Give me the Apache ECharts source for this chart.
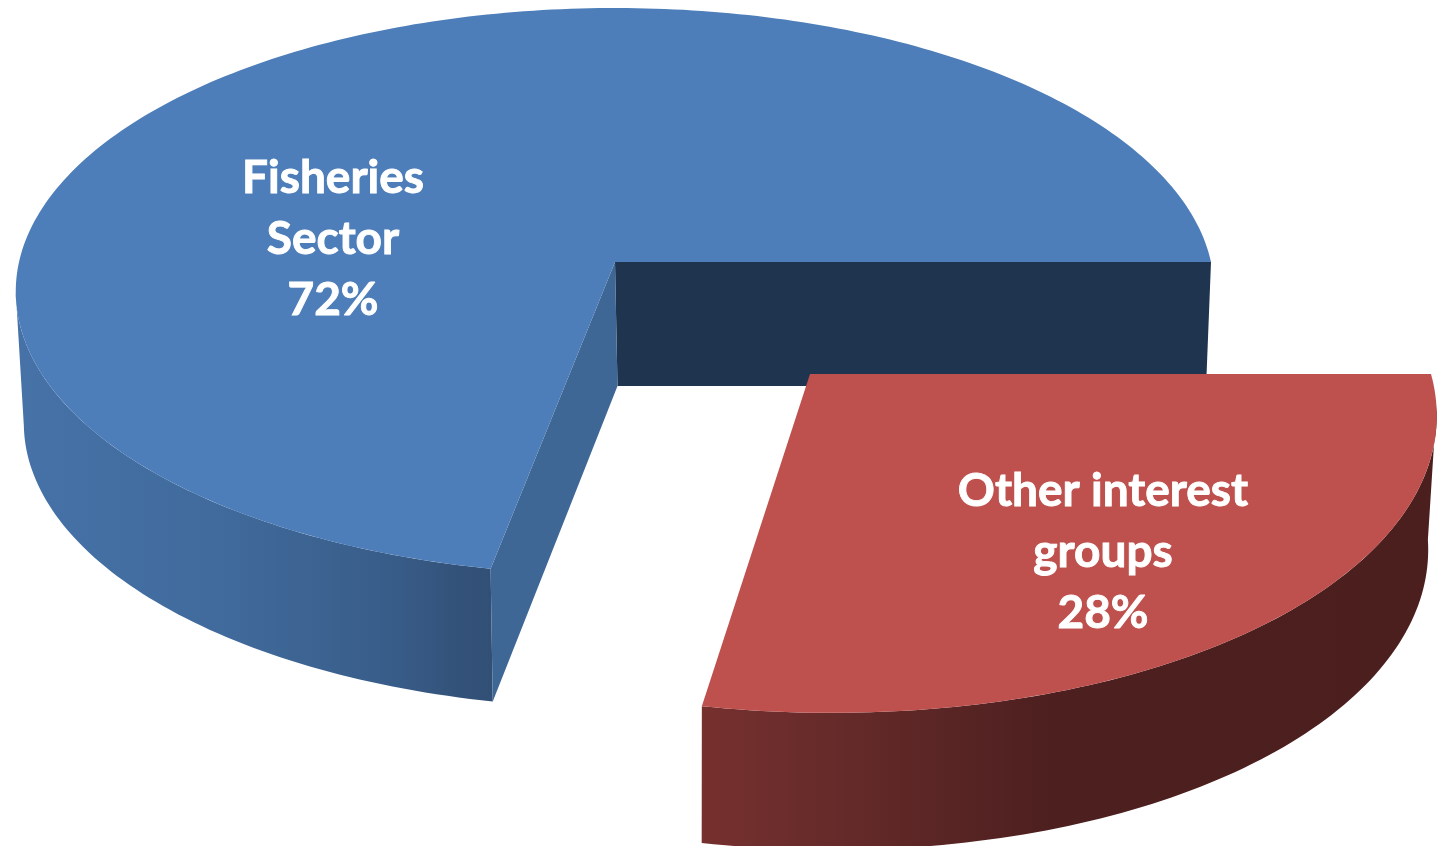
<!DOCTYPE html>
<html>
<head>
<meta charset="utf-8">
<style>html,body{margin:0;padding:0;background:#fff}#c{width:1441px;height:846px}</style>
<script src="https://cdn.jsdelivr.net/npm/echarts@6/dist/echarts.min.js"></script>
</head>
<body>
<div id="c"></div>
<script>
// Data
const categories = ['Fisheries\nSector', 'Other interest\ngroups'];
const values = [72, 28];

// Perspective planes for each slice (layout, not data)
const planes = [
  { top: {cx:615, cy:262, A:596, B:280.4, C:0, p:0.104},
    bot: {cx:617.5, cy:386, A:588.6, B:278.9, C:2, p:0.134},
    rim: [174, 172], label: [333, 239.5] },
  { top: {cx:810, cy:374, A:621, B:303.6, C:19.6, p:0.104},
    bot: {cx:810.5, cy:502, A:610.4, B:305.3, C:19, p:0.1226},
    rim: [6, 7], label: [1103, 552.5] }
];
const total = values.reduce((a, b) => a + b, 0);
// Slices sweep clockwise: the second slice starts at 3 o'clock, the first fills the rest.
const sweeps = [
  [values[1] / total * 360, 360],
  [0, values[1] / total * 360]
];

function project(pl, deg) {
  const t = deg * Math.PI / 180, u = Math.cos(t), v = Math.sin(t), w = 1 - pl.p * v;
  return [pl.cx + (pl.A * u + pl.C * v) / w, pl.cy + pl.B * v / w];
}
function arc(pl, a, b) {
  const pts = [], n = Math.max(2, Math.ceil(Math.abs(b - a)));
  for (let i = 0; i <= n; i++) pts.push(project(pl, a + (b - a) * i / n));
  return pts;
}
const grad = (stops) => new echarts.graphic.LinearGradient(0, 0, 1, 0,
  stops.map(s => ({offset: s[0], color: s[1]})));
const poly = (points, fill) => ({type: 'polygon', silent: true, shape: {points}, style: {fill}});

function renderItem(params, api) {
  const i = api.value(0), pl = planes[i], [a, b] = sweeps[i];
  const children = [];
  if (i === 0) {
    const e0 = project(pl.top, b), e1 = project(pl.bot, b);
    children.push(poly([[pl.top.cx, pl.top.cy], e0, e1, [pl.bot.cx, pl.bot.cy]], '#1f344e'));
    children.push(poly(arc(pl.top, a, pl.rim[0]).concat(arc(pl.bot, pl.rim[1], a)),
      grad([[0, '#4672a8'], [0.45, '#406a9b'], [0.8, '#385c88'], [0.93, '#335279'], [1, '#325076']])));
    children.push(poly([[pl.top.cx, pl.top.cy], project(pl.top, a), project(pl.bot, a), [pl.bot.cx, pl.bot.cy]], '#3e6795'));
  } else {
    children.push(poly(arc(pl.top, pl.rim[0], b).concat(arc(pl.bot, b, pl.rim[1])),
      grad([[0, '#76302e'], [0.2, '#642a29'], [0.48, '#4d1f1f'], [1, '#4c1f1f']])));
  }
  const top = [[pl.top.cx, pl.top.cy]].concat(arc(pl.top, a, b));
  children.push(poly(top, i === 0 ? '#4e7eb9' : '#be504d'));
  children.push({
    type: 'text', silent: true, x: pl.label[0], y: pl.label[1],
    style: {
      text: categories[i] + '\n' + values[i] + '%',
      fill: '#fff', stroke: '#fff', lineWidth: 0.9,
      align: 'center', verticalAlign: 'middle',
      font: 'bold 46px Lato, "Open Sans", sans-serif', lineHeight: 61
    }
  });
  return {type: 'group', children};
}

const chart = echarts.init(document.getElementById('c'), null, {renderer: 'canvas'});
chart.setOption({
  animation: false,
  backgroundColor: '#fff',
  series: [{
    type: 'custom',
    coordinateSystem: 'none',
    renderItem,
    data: values.map((v, i) => [i, v, categories[i]]),
    silent: true
  }]
});
</script>
</body>
</html>
